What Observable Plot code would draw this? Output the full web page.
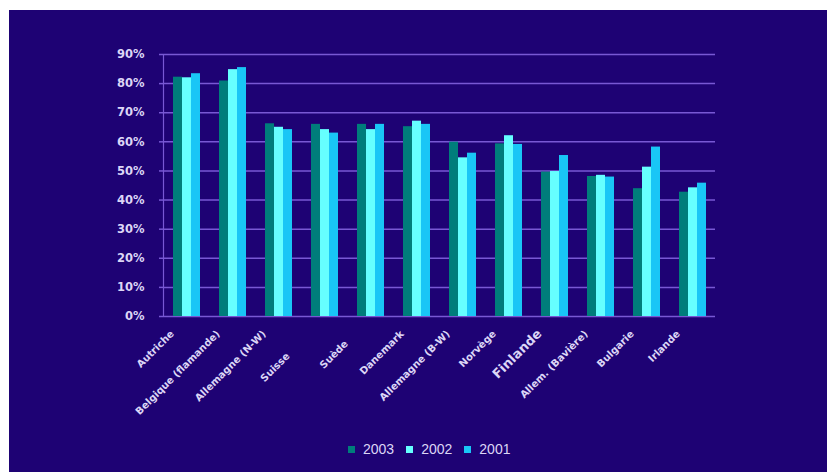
<!DOCTYPE html>
<html><head><meta charset="utf-8">
<script src="https://cdn.jsdelivr.net/npm/d3@7"></script>
<script src="https://cdn.jsdelivr.net/npm/@observablehq/plot@0.6"></script>
<style>
html,body{margin:0;padding:0;background:#fff;}
#panel{position:absolute;left:9px;top:10px;width:818px;height:462px;background:#1e0274;overflow:hidden;}
#chart svg{display:block;}
#legend{position:absolute;left:339px;top:431px;display:flex;align-items:center;font-family:"Liberation Sans",Arial,sans-serif;font-size:14px;color:#dcd6f6;}
.item{display:flex;align-items:center;margin-right:12px;}
.sw{width:7px;height:7px;margin-right:8px;}
</style></head><body>
<div id="panel"><div id="chart"></div><div id="legend"></div></div>
<script>
const countries = ["Autriche", "Belgique (flamande)", "Allemagne (N-W)", "Suisse", "Suède", "Danemark",
  "Allemagne (B-W)", "Norvège", "Finlande", "Allem. (Bavière)", "Bulgarie", "Irlande"];
const tickLabels = ["Autriche", "Belgique (flamande)", "Allemagne (N-W)",
  "Suisse\u00a0\u00a0\u00a0\u00a0\u00a0\u00a0\u00a0\u00a0\u00a0", "Suède\u00a0\u00a0\u00a0\u00a0", "Danemark",
  "Allemagne (B-W)", "Norvège", "Finlande", "Allem. (Bavière)", "Bulgarie", "Irlande"];
const years = ["2003", "2002", "2001"];
const v2003 = [82.2, 80.9, 66.2, 66.0, 66.0, 65.2, 59.9, 59.3, 49.6, 48.1, 43.9, 42.7];
const v2002 = [82.0, 84.8, 65.0, 64.2, 64.2, 67.1, 54.5, 62.1, 49.8, 48.5, 51.3, 44.2];
const v2001 = [83.4, 85.5, 64.2, 63.0, 66.0, 66.0, 56.1, 59.1, 55.3, 47.9, 58.2, 45.8];
const yTicks = [0, 10, 20, 30, 40, 50, 60, 70, 80, 90];
const colors = ["#007d7b", "#66ffff", "#19c6f6"];

const gridColor = "#7858d4";
const textColor = "#dcd6f6";
const series = [v2003, v2002, v2001];
const data = countries.flatMap((c, i) => years.map((y, j) => ({country: c, year: y, value: series[j][i]})));

const chart = Plot.plot({
  width: 818, height: 420,
  marginTop: 44, marginBottom: 114, marginLeft: 152, marginRight: 110,
  style: {background: "transparent", color: textColor, fontFamily: "DejaVu Sans, sans-serif"},
  fx: {domain: countries, padding: 0, axis: null},
  x: {domain: years, paddingInner: 0, paddingOuter: 0.81, axis: null},
  y: {domain: [0, 90], axis: null},
  color: {domain: years, range: colors},
  marks: [
    Plot.gridY(yTicks, {stroke: gridColor, strokeOpacity: 1, strokeWidth: 1.5}),
    Plot.barY(data, {fx: "country", x: "year", y: "value", fill: "year"}),
    Plot.axisY(yTicks, {tickSize: 4, tickPadding: 15, tickFormat: d => d + "%", stroke: gridColor, strokeWidth: 1.5,
      fill: textColor, fontSize: 11.5, fontWeight: "bold", label: null}),
    Plot.frame({anchor: "left", facetAnchor: "left", stroke: gridColor, strokeWidth: 1.2}),
    Plot.text(countries, {fx: d => d, text: (d, i) => tickLabels[i], frameAnchor: "bottom", rotate: -45, textAnchor: "end",
      dx: -12, dy: 18, fontSize: d => d === "Finlande" ? 13 : 10, fontWeight: "bold", fill: textColor})
  ]
});
document.getElementById("chart").appendChild(chart);

const legend = d3.select("#legend");
years.forEach((y, i) => {
  const item = legend.append("div").attr("class", "item");
  item.append("div").attr("class", "sw").style("background", colors[i]);
  item.append("span").text(y);
});
</script>
</body></html>
